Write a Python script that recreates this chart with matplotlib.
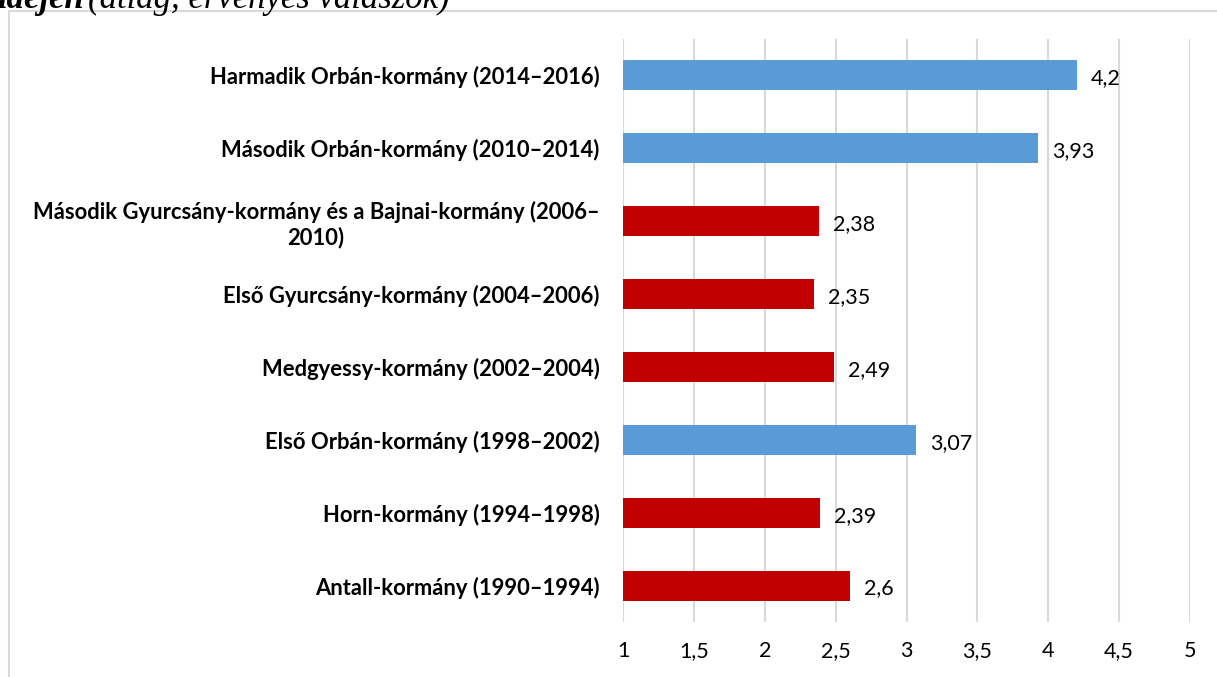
import matplotlib
matplotlib.use("Agg")
import matplotlib.pyplot as plt
from matplotlib.patches import Rectangle

categories = [
    "Antall-kormány (1990–1994)",
    "Horn-kormány (1994–1998)",
    "Első Orbán-kormány (1998–2002)",
    "Medgyessy-kormány (2002–2004)",
    "Első Gyurcsány-kormány (2004–2006)",
    "Második Gyurcsány-kormány és a Bajnai-kormány (2006–\n2010)",
    "Második Orbán-kormány (2010–2014)",
    "Harmadik Orbán-kormány (2014–2016)",
]
values = [2.6, 2.39, 3.07, 2.49, 2.35, 2.38, 3.93, 4.2]
value_labels = ["2,6", "2,39", "3,07", "2,49", "2,35", "2,38", "3,93", "4,2"]
bloc = ["left", "left", "right", "left", "left", "left", "right", "right"]
xticks = [1, 1.5, 2, 2.5, 3, 3.5, 4, 4.5, 5]
xtick_labels = ["1", "1,5", "2", "2,5", "3", "3,5", "4", "4,5", "5"]
colors = {"right": "#5B9BD5", "left": "#C00000"}

W, H = 1217, 677
fig = plt.figure(figsize=(W / 100, H / 100), dpi=100)
plt.rcParams['font.family'] = ['Lato', 'DejaVu Sans']

# frame
fig.patches.append(Rectangle((9 / W, -0.1), 1.2, (H - 11) / H + 0.1, transform=fig.transFigure,
                             fill=False, edgecolor="#d9d9d9", linewidth=1.5))

# clipped title (cut off at the top edge, as in the reference)
fig.text(-3 / W, 1 - 8 / H, "idején", fontsize=25, fontweight="bold", fontstyle="italic",
         family="Liberation Serif", ha="left", va="baseline")
fig.text(88 / W, 1 - 8 / H, "(átlag, érvényes válaszok)", fontsize=25, fontstyle="italic",
         family="Liberation Serif", ha="left", va="baseline")

left, right = 623 / W, 1190 / W
bottom, top = 1 - 622 / H, 1 - 39 / H
ax = fig.add_axes([left, bottom, right - left, top - bottom])

y = list(range(len(categories)))
ax.barh(y, [v - 1 for v in values], left=1, height=0.41,
        color=[colors[b] for b in bloc], zorder=3)
for yi, v, lab in zip(y, values, value_labels):
    ax.annotate(lab, (v, yi), xytext=(14, -3), textcoords="offset pixels",
                ha="left", va="center", fontsize=15.5, color="#000000")

ax.set_xlim(1, 5)
ax.set_ylim(-0.5, len(categories) - 0.5)
ax.set_xticks(xticks)
ax.set_xticklabels(xtick_labels, fontsize=15.5)
ax.set_yticks(y)
ax.set_yticklabels(categories, fontsize=15.8, fontweight="bold", multialignment="center")
ax.tick_params(axis="y", length=0, pad=17)
ax.tick_params(axis="x", length=0, pad=14)
ax.grid(axis="x", color="#d9d9d9", linewidth=1.5, zorder=0)
for s in ax.spines.values():
    s.set_visible(False)
ax.set_facecolor("none")

fig.savefig("out.png", dpi=100)
